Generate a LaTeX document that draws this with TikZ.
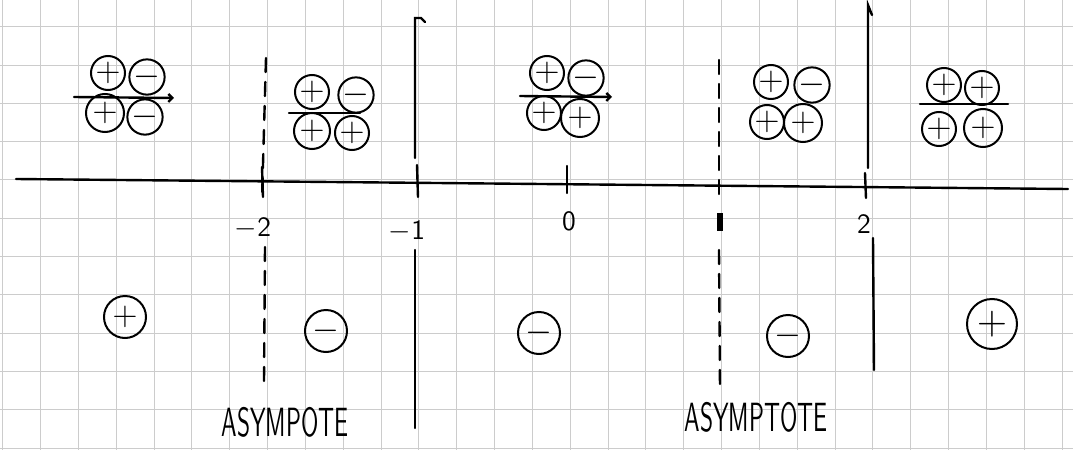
\documentclass[tikz,border=0pt]{standalone}
\usetikzlibrary{arrows.meta, positioning}
\begin{document}
\begin{tikzpicture}[x=0.5pt, y=-0.5pt,
  pen/.style={line width=1.2pt, line cap=round},
  asym/.style={pen, dash pattern=on 7pt off 5pt},
  sgn/.style={draw, circle, line width=1pt, inner sep=0pt, minimum size=17pt, font=\fontsize{16}{16}\selectfont},
  bigsgn/.style={sgn, minimum size=21pt},
  tick label/.style={font=\sffamily\fontsize{14}{14}\selectfont},
  note/.style={font=\sffamily\fontsize{12}{12}\selectfont}]

\useasboundingbox (0,0) rectangle (1073,450);
% grid paper
\foreach \i in {0,...,28}
  \draw[gray!40, line width=0.5pt] ({2.8+37.83*\i},0) -- ({2.8+37.83*\i},450);
\foreach \j in {0,...,11}
  \draw[gray!40, line width=0.5pt] (0,{26.7+38.3*\j}) -- (1073,{26.7+38.3*\j});

% number line
\coordinate (xl) at (16,179);
\coordinate (xr) at (1068,189);
\draw[pen] (xl) -- (xr);
\draw[pen] (262,167) -- (263,197);
\draw[pen] (417,165) -- (418,197);
\draw[pen] (567,166) -- (567,193);
\draw[pen] (865,173) -- (866,198);

\node[tick label] (lm2) at (253,228) {$-$2};
\node[tick label] (lm1) at (407,231) {$-$1};
\node[tick label] (l0)  at (569,221) {0};
\node[tick label] (l2)  at (864,224) {2};

% asymptotes and zero lines
\draw[asym] (266,58) -- (262,200);
\draw[asym] (265,247) -- (264,382);
\draw[asym] (719,60) -- (719,200);
\draw[line width=2.6pt] (720,213) -- (720,231);
\draw[asym] (719,250) -- (720,388);

\draw[pen] (425,22) -- (421,18) -- (415,18) -- (415,158);
\draw[pen] (415,250) -- (415,428);
\draw[pen] (872,15) -- (868,5) -- (868,168);
\draw[pen] (873,238) -- (874,370);

\node[note] (a1) at (285,422) {\scalebox{1}[1.7]{ASYMPOTE}};
\node[note] (a2) at (756,417) {\scalebox{1}[1.7]{ASYMPTOTE}};

% factor signs
\node[sgn] (n11) at (108,73) {$+$};
\node[sgn] (n12) at (147,77) {$-$};
\draw[pen, -{Straight Barb[length=2pt]}] (74,97) -- (174,98);
\node[sgn, minimum size=19pt] (d11) at (105,113) {$+$};
\node[sgn, minimum size=15pt] (d12) at (145,117) {$-$};

\node[sgn] (n21) at (312,92) {$+$};
\node[sgn] (n22) at (356,95) {$-$};
\draw[pen] (289,113) -- (360,113);
\node[sgn, minimum size=18pt] (d21) at (312,131) {$+$};
\node[sgn] (d22) at (352,133) {$+$};

\node[sgn] (n31) at (547,73) {$+$};
\node[sgn] (n32) at (586,78) {$-$};
\draw[pen, -{Straight Barb[length=2pt]}] (520,96) -- (612,97);
\node[sgn] (d31) at (544,113) {$+$};
\node[sgn, minimum size=19pt] (d32) at (580,118) {$+$};

\node[sgn] (n41) at (771,82) {$+$};
\node[sgn] (n42) at (812,85) {$-$};
\node[sgn] (d41) at (767,122) {$+$};
\node[sgn, minimum size=19pt] (d42) at (803,123) {$+$};

\node[sgn] (n51) at (944,85) {$+$};
\node[sgn] (n52) at (982,88) {$+$};
\draw[pen] (920,104) -- (1008,104);
\node[sgn] (d51) at (939,129) {$+$};
\node[sgn, minimum size=19pt] (d52) at (983,128) {$+$};

% sign of the quotient
\node[bigsgn] (s1) at (125,317) {$+$};
\node[bigsgn] (s2) at (326,331) {$-$};
\node[bigsgn] (s3) at (539,333) {$-$};
\node[bigsgn] (s4) at (788,336) {$-$};
\node[bigsgn, minimum size=25pt, font=\fontsize{20}{20}\selectfont] (s5) at (992,324) {$+$};
\end{tikzpicture}
\end{document}
